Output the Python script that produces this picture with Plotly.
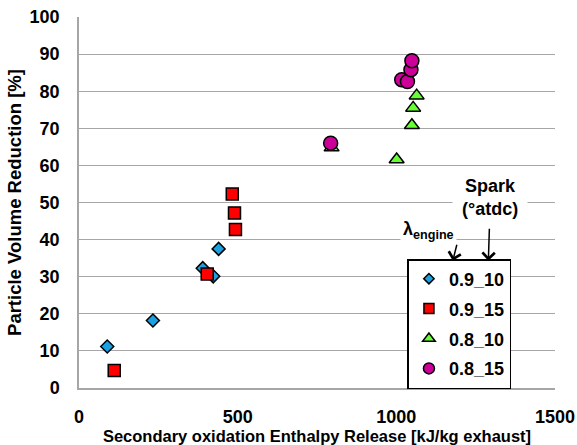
import plotly.graph_objects as go

# Secondary oxidation enthalpy release [kJ/kg exhaust] vs particle volume reduction [%]
# Series named lambda_engine _ spark timing (deg atdc)
series_names = ["0.9_10", "0.9_15", "0.8_10", "0.8_15"]

enthalpy_09_10 = [89, 233, 390, 423, 440]
reduction_09_10 = [11.2, 18.2, 32.3, 30.1, 37.5]

enthalpy_09_15 = [111, 404, 483, 490, 493]
reduction_09_15 = [4.7, 30.7, 52.3, 47.2, 42.7]

enthalpy_08_10 = [796, 1001, 1049, 1053, 1064]
reduction_08_10 = [64.8, 61.6, 70.8, 75.5, 78.8]

enthalpy_08_15 = [793, 1017, 1035, 1046, 1049]
reduction_08_15 = [66.0, 83.1, 82.6, 85.8, 88.2]

x_ticks = [0, 500, 1000, 1500]
y_ticks = [0, 10, 20, 30, 40, 50, 60, 70, 80, 90, 100]

FONT = "Liberation Sans, Arial, Helvetica, sans-serif"
GRID = "#a6a6a6"

styles = [
    dict(symbol="diamond", color="#1ba1e2", size=10, legend_size=8),
    dict(symbol="square", color="#ff0000", size=12, legend_size=10),
    dict(symbol="triangle-up", color="#66ff33", size=13, legend_size=11),
    dict(symbol="circle", color="#cc0099", size=14, legend_size=11),
]
data = [
    (enthalpy_09_10, reduction_09_10),
    (enthalpy_09_15, reduction_09_15),
    (enthalpy_08_10, reduction_08_10),
    (enthalpy_08_15, reduction_08_15),
]

fig = go.Figure()

for name, (xs, ys), st in zip(series_names, data, styles):
    fig.add_trace(go.Scatter(
        x=xs, y=ys, mode="markers", name=name, showlegend=False,
        marker=dict(symbol=st["symbol"], size=st["size"], color=st["color"],
                    line=dict(color="black", width=1.5)),
    ))

# legend entries with smaller symbols than the plotted markers
for name, st in zip(series_names, styles):
    fig.add_trace(go.Scatter(
        x=[None], y=[None], mode="markers", name=name, legendgroup=name,
        marker=dict(symbol=st["symbol"], size=st["legend_size"], color=st["color"],
                    line=dict(color="black", width=1.5)),
    ))

fig.update_layout(
    width=577, height=445, autosize=False,
    margin=dict(l=79, r=22, t=17, b=57),
    paper_bgcolor="white", plot_bgcolor="white",
    font=dict(family=FONT, color="black", weight="bold"),
    showlegend=True,
    legend=dict(
        x=0.69, y=0.3477, xanchor="left", yanchor="top",
        bgcolor="white", bordercolor="black", borderwidth=1.5,
        font=dict(family=FONT, size=18, color="black", weight="bold"),
        tracegroupgap=3.5, itemsizing="trace",
    ),
)

fig.update_xaxes(
    range=[0, 1500], tickvals=x_ticks, showgrid=False, zeroline=False,
    showline=True, linecolor=GRID, linewidth=1.5, automargin=False,
    ticks="", ticklabelstandoff=12,
    tickfont=dict(family=FONT, size=18, weight="bold"),
    title=dict(text="Secondary oxidation Enthalpy Release [kJ/kg exhaust]",
               font=dict(family=FONT, size=16.5, weight="bold"), standoff=6),
)
fig.update_yaxes(
    range=[0, 100], tickvals=y_ticks, showgrid=True, gridcolor=GRID, gridwidth=1.2,
    zeroline=False, showline=True, linecolor=GRID, linewidth=1.5, automargin=False,
    ticks="", ticklabelstandoff=14,
    tickfont=dict(family=FONT, size=18, weight="bold"),
    title=dict(text="Particle Volume Reduction [%]",
               font=dict(family=FONT, size=18.5, weight="bold"), standoff=3),
)

# labels for the two parts of the series name, each with an arrow to the legend
fig.add_annotation(
    x=1290, y=34.3, xref="x", yref="y", text="Spark<br>(°atdc)",
    showarrow=True, ax=2, ay=-63, arrowhead=4, arrowsize=1.6, arrowwidth=1.5,
    arrowcolor="black",
    font=dict(family=FONT, size=18, color="black", weight="bold"),
    bgcolor="white", borderpad=9, align="center",
)
fig.add_annotation(
    x=1178, y=34.3, xref="x", yref="y", text="λ<sub>engine</sub>",
    showarrow=True, ax=4, ay=-16, xanchor="right", yanchor="bottom",
    arrowhead=4, arrowsize=1.6, arrowwidth=1.5, arrowcolor="black",
    font=dict(family=FONT, size=18, color="black", weight="bold"),
    bgcolor="white", borderpad=2,
)

fig.write_html("out.html")
